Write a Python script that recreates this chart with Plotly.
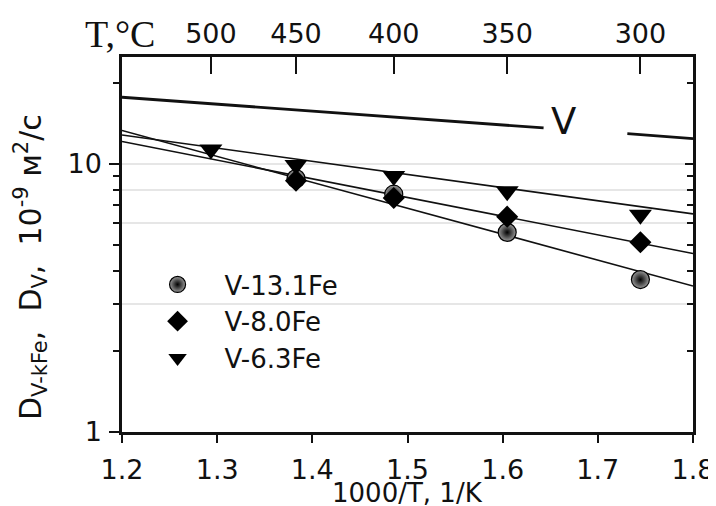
import math
import plotly.graph_objects as go

# ---------------- data ----------------
T_TOP = [500, 450, 400, 350, 300]            # top axis, deg C
T_13_1 = [450, 400, 350, 300]
T_8_0 = [450, 400, 350, 300]
T_6_3 = [500, 450, 400, 350, 300]

D_13_1 = [8.8, 7.7, 5.55, 3.7]
D_8_0 = [8.65, 7.45, 6.35, 5.1]
D_6_3 = [11.3, 9.9, 9.0, 7.9, 6.45]

FIT_X = [1.2, 1.8]
FIT_13_1 = [13.3, 3.5]
FIT_8_0 = [12.1, 4.63]
FIT_6_3 = [12.8, 6.5]

V_LINE_X = [1.2, 1.643, None, 1.731, 1.8]
V_LINE_Y = [17.7, 13.6, None, 12.95, 12.4]
V_LABEL = ("V", 1.664, 14.4)

X_TICKS = [1.2, 1.3, 1.4, 1.5, 1.6, 1.7, 1.8]
Y_MAJOR = [1, 10]
Y_MINOR = [2, 3, 4, 5, 6, 7, 8, 9, 20]
GRID_VALUES = [3, 6, 8, 10]
Y_MAX = 25

NAMES = ["V-13.1Fe", "V-8.0Fe", "V-6.3Fe"]


def inv_t(tc):
    return [1000.0 / (t + 273.15) for t in tc]


INK = "#111111"
FONT = "DejaVu Sans"
TICKFONT = dict(family=FONT, size=27, color=INK)

fig = go.Figure()

# fitted lines
for fy in (FIT_13_1, FIT_8_0, FIT_6_3):
    fig.add_trace(go.Scatter(x=FIT_X, y=fy, mode="lines",
                             line=dict(color=INK, width=1.6),
                             showlegend=False, hoverinfo="skip"))

# pure V line (on mirrored axes)
fig.add_trace(go.Scatter(x=V_LINE_X, y=V_LINE_Y, mode="lines",
                         line=dict(color=INK, width=2.8), connectgaps=False,
                         showlegend=False, hoverinfo="skip",
                         xaxis="x2", yaxis="y2"))

# data markers
fig.add_trace(go.Scatter(x=inv_t(T_13_1), y=D_13_1, mode="markers", name=NAMES[0],
                         marker=dict(symbol="circle", size=18, color="#9a9a9a",
                                     gradient=dict(type="radial", color="#000000"),
                                     line=dict(width=1.2, color="#000000"))))
fig.add_trace(go.Scatter(x=inv_t(T_8_0), y=D_8_0, mode="markers", name=NAMES[1],
                         marker=dict(symbol="diamond", size=17, color="#000000",
                                     line=dict(width=0))))
fig.add_trace(go.Scatter(x=inv_t(T_6_3), y=D_6_3, mode="markers", name=NAMES[2],
                         marker=dict(symbol="triangle-down", size=20, color="#000000",
                                     line=dict(width=0))))

yrange = [0, math.log10(Y_MAX)]

# the page body adds an 8px offset, so the figure is laid out 8px up/left
fig.update_layout(
    width=716, height=506,
    margin=dict(l=114, r=31, t=49, b=82, autoexpand=False),
    paper_bgcolor="white", plot_bgcolor="white",
    font=dict(family=FONT, color=INK),
    showlegend=True,
    legend=dict(x=0.015, y=0.456, xanchor="left", yanchor="top",
                bgcolor="rgba(0,0,0,0)", font=dict(family=FONT, size=26, color=INK),
                itemwidth=84, tracegroupgap=0),
    xaxis=dict(range=[1.2, 1.8], tickvals=X_TICKS, ticktext=[f"{v:.1f}" for v in X_TICKS],
               ticks="outside", ticklen=8, tickwidth=2, tickcolor=INK,
               showline=True, linewidth=2.5, linecolor=INK, showgrid=False,
               zeroline=False, tickfont=TICKFONT, ticklabelstandoff=4),
    xaxis2=dict(range=[1.2, 1.8], overlaying="x", side="top",
                tickvals=inv_t(T_TOP), ticktext=[str(t) for t in T_TOP],
                ticks="inside", ticklen=17, tickwidth=2, tickcolor=INK,
                showline=True, linewidth=2.5, linecolor=INK, showgrid=False,
                zeroline=False, tickfont=TICKFONT, ticklabelstandoff=0),
    yaxis=dict(type="log", range=yrange, tickvals=Y_MAJOR, ticktext=[str(v) for v in Y_MAJOR],
               ticks="outside", ticklen=10, tickwidth=2, tickcolor=INK,
               minor=dict(tickvals=Y_MINOR, ticks="outside", ticklen=6, tickwidth=1.5,
                          tickcolor=INK, showgrid=False),
               showline=True, linewidth=2.5, linecolor=INK, showgrid=False,
               zeroline=False, tickfont=TICKFONT, ticklabelstandoff=2),
    yaxis2=dict(type="log", range=yrange, overlaying="y", side="right",
                tickvals=Y_MAJOR, showticklabels=False,
                ticks="inside", ticklen=8, tickwidth=2, tickcolor=INK,
                minor=dict(tickvals=Y_MINOR, ticks="inside", ticklen=6, tickwidth=1.5,
                           tickcolor=INK, showgrid=False),
                showline=True, linewidth=2.5, linecolor=INK, showgrid=False,
                zeroline=False),
    yaxis3=dict(type="log", range=yrange, overlaying="y", side="left",
                tickvals=GRID_VALUES, showticklabels=False, ticks="",
                showgrid=True, gridcolor="#e6e6e6", gridwidth=1.5,
                showline=False, zeroline=False),
)

# invisible trace to keep the grid axis alive
fig.add_trace(go.Scatter(x=[None], y=[None], yaxis="y3", showlegend=False, hoverinfo="skip"))

annotations = [
    dict(text="1000/T, 1/K", xref="paper", yref="paper", x=0.5, y=-0.163,
         xanchor="center", yanchor="middle", showarrow=False,
         font=dict(family=FONT, size=26, color=INK)),
    dict(text="D<sub>V-kFe</sub>,  D<sub>V</sub>,  10<sup>-9</sup> м<sup>2</sup>/с",
         xref="paper", yref="paper", x=-0.161, y=0.44, textangle=-90,
         xanchor="center", yanchor="middle", showarrow=False,
         font=dict(family=FONT, size=30, color=INK)),
    dict(text="T,°C", xref="paper", yref="paper", x=-0.004, y=1.062,
         xanchor="center", yanchor="middle", showarrow=False,
         font=dict(family="Liberation Serif", size=38, color=INK)),
    dict(text=V_LABEL[0], x=V_LABEL[1], y=math.log10(V_LABEL[2]), xref="x", yref="y",
         xanchor="center", yanchor="middle", showarrow=False,
         font=dict(family=FONT, size=37, color=INK)),
]
fig.update_layout(annotations=annotations)

fig.write_html("out.html")
